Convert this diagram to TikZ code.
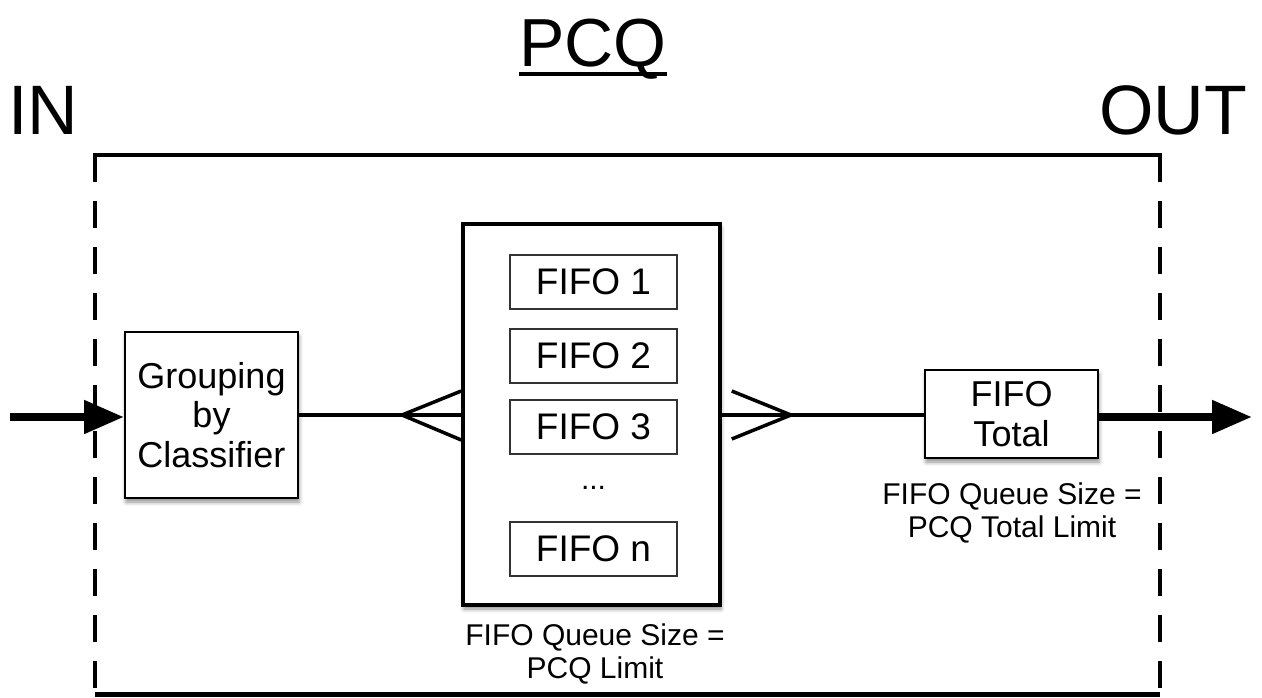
\documentclass[tikz,border=0pt]{standalone}
\usepackage{fontspec}
\setmainfont{Liberation Sans}
\usetikzlibrary{arrows.meta,calc,shadows.blur}
\newcommand{\fs}[1]{\fontsize{#1}{1.12\dimexpr#1pt\relax}\selectfont}
\tikzset{
  box/.style={draw=black, fill=white, line width=2pt, inner sep=0pt, align=center,
    blur shadow={shadow xshift=1pt, shadow yshift=-4pt, shadow blur radius=4pt, shadow opacity=45}},
  fifo/.style={draw=black!80, fill=white, line width=1.5pt, minimum width=167pt, minimum height=54pt, inner sep=0pt, font=\fs{37}},
  frame/.style={line width=4pt},
  dashframe/.style={line width=4pt, dash pattern=on 27pt off 19pt},
  thin/.style={line width=3.5pt},
  thick arrow/.style={line width=8pt, -{Triangle[length=40pt,width=32pt]}},
  lbl/.style={font=\fs{30}, align=center, inner sep=0pt},
  big/.style={font=\fs{68}, inner sep=0pt, anchor=base}
}
\begin{document}
\begin{tikzpicture}[x=1pt,y=-1pt]
\useasboundingbox (0,0) rectangle (1262,697);
% titles
\node[big, anchor=base] (pcq) at (593,66) {PCQ};
\draw[line width=3.5pt] (pcq.west |- 0,74) -- (pcq.east |- 0,74);
\node[big, font=\fs{70}, anchor=base west] (in) at (8,134) {IN};
\node[big, font=\fs{70}, anchor=base east] (out) at (1247,134) {OUT};
% frame
\coordinate (tl) at (95,155);
\coordinate (tr) at (1160,155);
\coordinate (bl) at (95,697);
\coordinate (br) at (1160,697);
\draw[frame] ([xshift=-2pt]tl) -- ([xshift=2pt]tr);
\draw[dashframe] (tl) -- (bl);
\draw[dashframe] (tr) -- (br);
\draw[line width=5pt] (95,694) -- (1160,694);
% boxes
\node[box, minimum width=173pt, minimum height=166pt, font=\fs{36}] (group) at (211.5,415) {Grouping\\[-1pt]by\\[-1pt]Classifier};
\node[box, line width=3.5pt, minimum width=257pt, minimum height=381pt] (big) at (591.5,414.5) {};
\node[fifo] (f1) at (593.5,282) {FIFO 1};
\node[fifo] (f2) at (593.5,356) {FIFO 2};
\node[fifo] (f3) at (593.5,427) {FIFO 3};
\node[font=\fs{30}, inner sep=0pt] (dots) at (593.5,488) {...};
\node[fifo] (fn) at (593.5,549) {FIFO n};
\node[box, minimum width=173pt, minimum height=88pt, font=\fs{36}] (total) at (1011.5,414) {FIFO\\[0pt]Total};
% labels
\node[lbl] (l1) at (1012,513) {FIFO Queue Size =\\[0pt]PCQ Total Limit};
\node[lbl] (l2) at (595,654) {FIFO Queue Size =\\[0pt]PCQ Limit};
% connectors
\coordinate (inStart) at (10,417);
\coordinate (outEnd) at (1252,417);
\draw[thick arrow] (inStart) -- (inStart -| group.west);
\draw[thick arrow] (total.east |- outEnd) -- (outEnd);
\coordinate (lf) at (402,415);
\coordinate (rf) at (791,415);
\draw[thin] (group.east |- lf) -- (big.west |- lf);
\draw[thin, line join=round] ($(big.west |- lf)+(0,-24)$) -- (lf) -- ($(big.west |- lf)+(0,25)$);
\draw[thin] (big.east |- rf) -- (total.west |- rf);
\draw[thin, line join=round] ($(big.east |- rf)+(10,-24)$) -- (rf) -- ($(big.east |- rf)+(10,24)$);
\end{tikzpicture}
\end{document}
